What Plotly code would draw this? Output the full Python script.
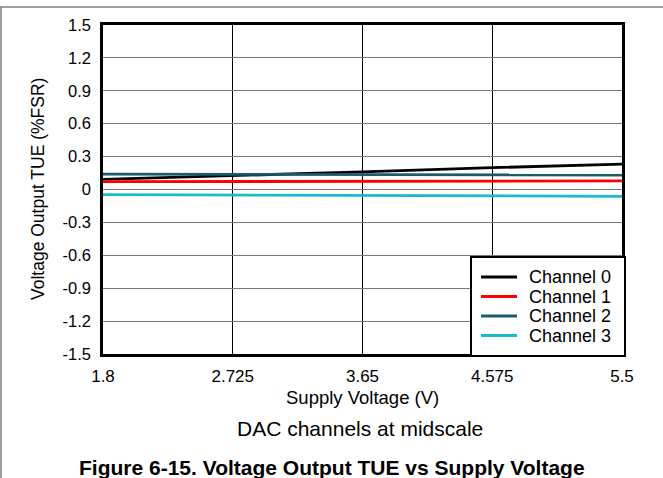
import plotly.graph_objects as go

# ---- data ----
supply_v = [1.8, 2.725, 3.65, 4.575, 5.5]
ch0 = [0.093, 0.126, 0.160, 0.199, 0.232]
ch1 = [0.071, 0.074, 0.076, 0.077, 0.078]
ch2 = [0.141, 0.138, 0.136, 0.134, 0.132]
ch3 = [-0.047, -0.052, -0.056, -0.059, -0.062]

series_names = ["Channel 0", "Channel 1", "Channel 2", "Channel 3"]
series_colors = ["#000000", "#ff0000", "#1e5a6a", "#14bccf"]

x_ticks = [1.8, 2.725, 3.65, 4.575, 5.5]
x_ticklabels = ["1.8", "2.725", "3.65", "4.575", "5.5"]
y_ticks = [-1.5, -1.2, -0.9, -0.6, -0.3, 0, 0.3, 0.6, 0.9, 1.2, 1.5]
y_ticklabels = ["-1.5", "-1.2", "-0.9", "-0.6", "-0.3", "0", "0.3", "0.6", "0.9", "1.2", "1.5"]

FONT = "Liberation Sans, Arial, sans-serif"

fig = go.Figure()
for name, vals, col in zip(series_names, [ch0, ch1, ch2, ch3], series_colors):
    fig.add_trace(go.Scatter(x=supply_v, y=vals, mode="lines", name=name,
                             line=dict(color=col, width=2.8), showlegend=False))

W, H = 663, 478
L, R, T, B = 103, 41, 25, 124
pw, ph = W - L - R, H - T - B

def px(xp):
    return (xp - L) / pw

def py(yp):
    return (H - B - yp) / ph

fig.update_layout(
    width=W, height=H,
    margin=dict(l=L, r=R, t=T, b=B),
    paper_bgcolor="white", plot_bgcolor="white",
    font=dict(family=FONT, size=17, color="black"),
    showlegend=False,
    xaxis=dict(range=[1.8, 5.5], tickvals=x_ticks, ticktext=x_ticklabels,
               showgrid=True, gridcolor="#000000", gridwidth=1,
               showline=True, linecolor="black", linewidth=2.5, mirror=True,
               ticks="", zeroline=False, tickfont=dict(size=17),
               ticklabelstandoff=5),
    yaxis=dict(range=[-1.5, 1.5], tickvals=y_ticks, ticktext=y_ticklabels,
               showgrid=True, gridcolor="#7a7a7a", gridwidth=1,
               showline=True, linecolor="black", linewidth=2.5, mirror=True,
               ticks="", zeroline=False, tickfont=dict(size=16.5),
               ticklabelstandoff=6),
)

fig.add_annotation(text="Supply Voltage (V)", xref="paper", yref="paper",
                   x=0.5, y=py(397), xanchor="center", yanchor="middle",
                   showarrow=False, font=dict(size=18.5, family=FONT))
fig.add_annotation(text="Voltage Output TUE (%FSR)", xref="paper", yref="paper",
                   x=px(37.5), y=0.5, xanchor="center", yanchor="middle", textangle=-90,
                   showarrow=False, font=dict(size=17.5, family=FONT))
fig.add_annotation(text="DAC channels at midscale", xref="paper", yref="paper",
                   x=px(360), y=py(428), xanchor="center", yanchor="middle",
                   showarrow=False, font=dict(size=21, family=FONT))
fig.add_annotation(text="<b>Figure 6-15. Voltage Output TUE vs Supply Voltage</b>",
                   xref="paper", yref="paper",
                   x=px(332), y=py(467), xanchor="center", yanchor="middle",
                   showarrow=False, font=dict(size=21, family=FONT))

# manual legend box
fig.add_shape(type="rect", xref="paper", yref="paper", layer="above",
              x0=px(471), x1=px(625), y0=py(356), y1=py(257),
              fillcolor="white", line=dict(color="black", width=2))
row_y = [277, 296.5, 316, 335.5]
for name, col, ry in zip(series_names, series_colors, row_y):
    fig.add_shape(type="line", xref="paper", yref="paper", layer="above",
                  x0=px(481), x1=px(517), y0=py(ry), y1=py(ry),
                  line=dict(color=col, width=3))
    fig.add_annotation(text=name, xref="paper", yref="paper",
                       x=px(527), y=py(ry), xanchor="left", yanchor="middle",
                       showarrow=False, font=dict(size=18, family=FONT))

# outer frame lines (top and left)
fig.add_shape(type="line", xref="paper", yref="paper",
              x0=px(0), x1=px(W), y0=py(7), y1=py(7),
              line=dict(color="#808080", width=1.5))
fig.add_shape(type="line", xref="paper", yref="paper",
              x0=px(1), x1=px(1), y0=py(7), y1=py(H),
              line=dict(color="#808080", width=1.5))

fig.write_html("out.html", config={"displayModeBar": False},
               post_script="document.body.style.margin='0';document.body.style.overflow='hidden';")
